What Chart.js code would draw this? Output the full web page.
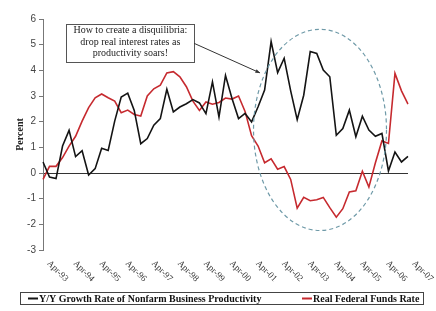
<!DOCTYPE html>
<html><head><meta charset="utf-8">
<script src="https://cdn.jsdelivr.net/npm/chart.js@4"></script>
<style>html,body{margin:0;padding:0;background:#fff;}#wrap{width:436px;height:311px;position:relative;}</style>
</head><body><div id="wrap"><canvas id="c" width="436" height="311"></canvas></div>
<script>
const quarters = [
'Jan-93','Apr-93','Jul-93','Oct-93','Jan-94','Apr-94','Jul-94','Oct-94',
'Jan-95','Apr-95','Jul-95','Oct-95','Jan-96','Apr-96','Jul-96','Oct-96',
'Jan-97','Apr-97','Jul-97','Oct-97','Jan-98','Apr-98','Jul-98','Oct-98',
'Jan-99','Apr-99','Jul-99','Oct-99','Jan-00','Apr-00','Jul-00','Oct-00',
'Jan-01','Apr-01','Jul-01','Oct-01','Jan-02','Apr-02','Jul-02','Oct-02',
'Jan-03','Apr-03','Jul-03','Oct-03','Jan-04','Apr-04','Jul-04','Oct-04',
'Jan-05','Apr-05','Jul-05','Oct-05','Jan-06','Apr-06','Jul-06','Oct-06',
'Jan-07'];
const tickLabels = ['Apr-93','Apr-94','Apr-95','Apr-96','Apr-97','Apr-98','Apr-99','Apr-00','Apr-01','Apr-02','Apr-03','Apr-04','Apr-05','Apr-06','Apr-07'];
const tickIndex = [1,5,9,13,17,21,25,29,33,37,41,45,49,53,57];
const productivity = [
0.43,-0.16,-0.22,1.05,1.66,0.64,0.87,-0.08,0.17,0.96,0.88,2.02,2.96,3.11,2.44,1.14,
1.34,1.86,2.12,3.26,2.38,2.57,2.70,2.86,2.73,2.31,3.55,2.18,3.80,2.90,2.12,2.32,
1.99,2.58,3.23,5.12,3.91,4.47,3.20,2.08,3.03,4.73,4.66,4.01,3.75,1.47,1.73,2.45,
1.41,2.21,1.67,1.43,1.54,0.08,0.82,0.43,0.65];
const realFedFunds = [
-0.25,0.26,0.26,0.60,1.05,1.43,2.02,2.55,2.93,3.08,2.93,2.80,2.35,2.45,2.28,2.22,
3.00,3.28,3.42,3.90,3.95,3.75,3.36,2.80,2.44,2.77,2.68,2.75,2.92,2.88,3.00,2.40,
1.45,1.05,0.40,0.55,0.15,0.25,-0.25,-1.37,-0.95,-1.08,-1.04,-0.95,-1.35,-1.72,-1.39,-0.74,
-0.69,0.07,-0.55,0.40,1.25,1.15,3.88,3.20,2.68];
const seriesNames = ['Y/Y Growth Rate of Nonfarm Business Productivity','Real Federal Funds Rate'];
const seriesColors = ['#141414','#c62a2f'];
const noteLines = ['How to create a disquilibria:','drop real interest rates as','productivity soars!'];
// annotation anchors in data units (category index, percent)
const noteAnchor = {cx: 13.4, top: 5.82, bottom: 4.33, left: 3.55, right: 23.2};
const arrowFrom = {x: 23.2, y: 5.05};
const arrowTo = {x: 33.3, y: 3.9};
const ellipseSpec = {cx: 42.5, cy: 1.68, rx: 10.2, ry: 3.92};

const overlay = {
  id: 'overlay',
  afterDraw(chart) {
    const ctx = chart.ctx, xs = chart.scales.x, ys = chart.scales.y;
    ctx.save();
    // x labels, rotated 45deg downward
    ctx.fillStyle = '#333';
    ctx.font = '9px "Liberation Serif"';
    ctx.textAlign = 'left';
    ctx.textBaseline = 'middle';
    tickLabels.forEach((t, i) => {
      const px = xs.getPixelForValue(tickIndex[i]);
      ctx.save();
      ctx.translate(px - 1, 262);
      ctx.rotate(Math.PI / 4);
      ctx.fillText(t, 0, 0);
      ctx.restore();
    });
    // ellipse
    ctx.save();
    ctx.strokeStyle = '#6f9aa8';
    ctx.lineWidth = 1.2;
    ctx.setLineDash([4, 3]);
    const ecx = xs.getPixelForValue(ellipseSpec.cx), ecy = ys.getPixelForValue(ellipseSpec.cy);
    const erx = xs.getPixelForValue(ellipseSpec.cx + ellipseSpec.rx) - ecx;
    const ery = ecy - ys.getPixelForValue(ellipseSpec.cy + ellipseSpec.ry);
    ctx.beginPath();
    ctx.ellipse(ecx, ecy, erx, ery, 0, 0, Math.PI * 2);
    ctx.stroke();
    ctx.restore();
    // annotation box
    const bl = xs.getPixelForValue(noteAnchor.left), br = xs.getPixelForValue(noteAnchor.right);
    const bt = ys.getPixelForValue(noteAnchor.top), bb = ys.getPixelForValue(noteAnchor.bottom);
    ctx.fillStyle = '#fff';
    ctx.fillRect(bl, bt, br - bl, bb - bt);
    ctx.strokeStyle = '#555';
    ctx.lineWidth = 1;
    ctx.strokeRect(Math.round(bl) + 0.5, Math.round(bt) + 0.5, Math.round(br - bl), Math.round(bb - bt));
    ctx.fillStyle = '#222';
    ctx.font = '10px "Liberation Serif"';
    ctx.textAlign = 'center';
    ctx.textBaseline = 'middle';
    const tcx = xs.getPixelForValue(noteAnchor.cx);
    noteLines.forEach((l, i) => ctx.fillText(l, tcx, bt + 7 + i * 11.5));
    // arrow
    const ax0 = xs.getPixelForValue(arrowFrom.x), ay0 = ys.getPixelForValue(arrowFrom.y);
    const ax1 = xs.getPixelForValue(arrowTo.x), ay1 = ys.getPixelForValue(arrowTo.y);
    ctx.strokeStyle = '#333';
    ctx.lineWidth = 1;
    ctx.beginPath(); ctx.moveTo(ax0, ay0); ctx.lineTo(ax1, ay1); ctx.stroke();
    const ang = Math.atan2(ay1 - ay0, ax1 - ax0);
    ctx.fillStyle = '#333';
    ctx.beginPath();
    ctx.moveTo(ax1, ay1);
    ctx.lineTo(ax1 - 5 * Math.cos(ang - 0.4), ay1 - 5 * Math.sin(ang - 0.4));
    ctx.lineTo(ax1 - 5 * Math.cos(ang + 0.4), ay1 - 5 * Math.sin(ang + 0.4));
    ctx.closePath(); ctx.fill();
    // legend
    ctx.strokeStyle = '#444';
    ctx.strokeRect(20.5, 292.5, 403, 12);
    ctx.font = 'bold 10px "Liberation Serif"';
    ctx.textAlign = 'left';
    ctx.fillStyle = '#111';
    const lx = [28, 302];
    seriesNames.forEach((n, i) => {
      ctx.strokeStyle = seriesColors[i];
      ctx.lineWidth = 2;
      ctx.beginPath(); ctx.moveTo(lx[i], 298.5); ctx.lineTo(lx[i] + 10, 298.5); ctx.stroke();
      ctx.fillStyle = '#111';
      ctx.fillText(n, lx[i] + 11, 299);
    });
    ctx.restore();
  }
};

new Chart(document.getElementById('c'), {
  type: 'line',
  data: {
    labels: quarters,
    datasets: [
      {label: seriesNames[0], data: productivity, borderColor: seriesColors[0], borderWidth: 1.6, pointRadius: 0, tension: 0},
      {label: seriesNames[1], data: realFedFunds, borderColor: seriesColors[1], borderWidth: 1.6, pointRadius: 0, tension: 0}
    ]
  },
  options: {
    responsive: false,
    devicePixelRatio: 1,
    animation: false,
    layout: {padding: {left: 0, top: 19, right: 28, bottom: 61}},
    scales: {
      x: {type: 'category', display: false, offset: false},
      y: {
        min: -3, max: 6,
        ticks: {stepSize: 1, color: '#444', font: {family: '"Liberation Sans"', size: 10}, padding: 3},
        grid: {
          color: c => (c.tick && c.tick.value === 0) ? '#333' : 'rgba(0,0,0,0)',
          tickColor: '#777', tickLength: 4, lineWidth: 1
        },
        border: {display: true, color: '#777'},
        title: {display: true, text: 'Percent', color: '#222', font: {family: '"Liberation Serif"', size: 10, weight: 'bold'}, padding: {top: 14, bottom: 0}},
        afterFit(s) { s.width = 43; }
      }
    },
    plugins: {legend: {display: false}, tooltip: {enabled: false}}
  },
  plugins: [overlay]
});
</script></body></html>
